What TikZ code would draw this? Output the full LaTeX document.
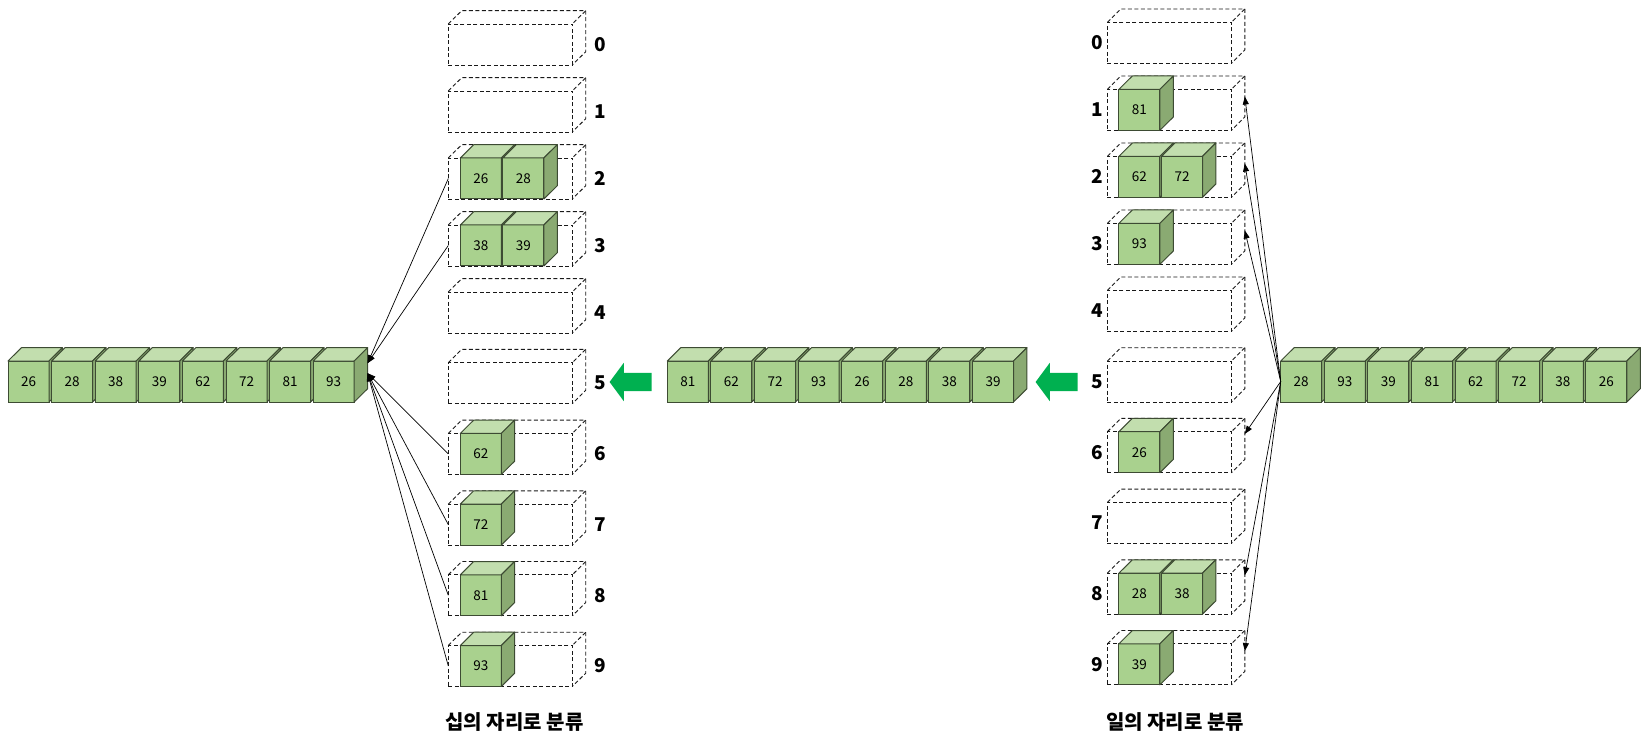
\documentclass[tikz,border=0pt]{standalone}
\usepackage{fontspec}
\setmainfont{Noto Sans CJK KR}
\usetikzlibrary{positioning,arrows.meta,shapes.arrows}
\definecolor{cubefront}{HTML}{A9D18E}
\definecolor{cubetop}{HTML}{C2DEAE}
\definecolor{cubeside}{HTML}{8AAA72}
\definecolor{cubeline}{HTML}{3D4B33}
\definecolor{movegreen}{HTML}{00B050}
\tikzset{
  cube/.style={draw=cubeline,fill=cubefront,line width=1pt,minimum size=41pt,inner sep=0pt,outer sep=0pt,font=\fontsize{13.5}{13.5}\selectfont},
  bucketedge/.style={draw=black!90,dash pattern=on 4pt off 2.5pt,line width=0.9pt},
  bucket/.style={bucketedge,minimum width=124pt,minimum height=41pt,inner sep=0pt,outer sep=0pt},
  digit/.style={font=\fontsize{19}{19}\selectfont\bfseries,inner sep=0pt},
  caption/.style={font=\fontsize{20}{20}\selectfont\bfseries,inner sep=0pt},
  conn/.style={line width=0.7pt,-{Triangle[length=8pt,width=6pt]}},
  move/.style={single arrow,fill=movegreen,shape border rotate=180,minimum height=42pt,inner xsep=0pt,inner ysep=9pt,single arrow head extend=10pt,single arrow tip angle=107}
}
\newcommand{\numcube}[3]{%
  \node[cube,#2](#1){#3};
  \filldraw[cubetop,draw=cubeline,line width=1pt,line join=round] (#1.north west) -- ++(13.4,-13.3) -- ++(41,0) -- (#1.north east) -- cycle;
  \filldraw[cubeside,draw=cubeline,line width=1pt,line join=round] (#1.north east) -- ++(13.4,-13.3) -- ++(0,41) -- (#1.south east) -- cycle;}
\newcommand{\bucketbox}[4]{%
  \node[bucket,#2](#1){};
  \draw[bucketedge] (#1.north west) -- ++(13.4,-13.3) -- ++(124,0) -- (#1.north east);
  \draw[bucketedge] ([shift={(13.4,-13.3)}]#1.north east) -- ++(0,41) -- (#1.south east);
  \coordinate (#1r) at ([shift={(13.4,-13.3)}]#1.east);
  \node[digit](#1n)[#3]{#4};}

\begin{document}
\begin{tikzpicture}[x=1pt,y=-1pt,node distance=43.6pt,on grid]
\useasboundingbox (0,0) rectangle (1646,743);
% tens buckets
\bucketbox{t0}{at={(510.3,44.5)}}{right=22pt of t0.east}{0}
\bucketbox{t1}{below=67pt of t0}{right=22pt of t1.east}{1}
\bucketbox{t2}{below=67pt of t1}{right=22pt of t2.east}{2}
\bucketbox{t3}{below=67pt of t2}{right=22pt of t3.east}{3}
\bucketbox{t4}{below=67pt of t3}{right=22pt of t4.east}{4}
\bucketbox{t5}{below=70.7pt of t4}{right=22pt of t5.east}{5}
\bucketbox{t6}{below=70.7pt of t5}{right=22pt of t6.east}{6}
\bucketbox{t7}{below=70.7pt of t6}{right=22pt of t7.east}{7}
\bucketbox{t8}{below=70.7pt of t7}{right=22pt of t8.east}{8}
\bucketbox{t9}{below=70.7pt of t8}{right=22pt of t9.east}{9}
\numcube{t2a}{at={([xshift=32.5pt]t2.west)}}{26}
\numcube{t2b}{right=42.6pt of t2a}{28}
\numcube{t3a}{at={([xshift=32.5pt]t3.west)}}{38}
\numcube{t3b}{right=42.6pt of t3a}{39}
\numcube{t6a}{at={([xshift=32.5pt]t6.west)}}{62}
\numcube{t7a}{at={([xshift=32.5pt]t7.west)}}{72}
\numcube{t8a}{at={([xshift=32.5pt]t8.west)}}{81}
\numcube{t9a}{at={([xshift=32.5pt]t9.west)}}{93}
% ones buckets
\bucketbox{o0}{at={(1169.4,42.8)}}{left=4pt of o0.west}{0}
\bucketbox{o1}{below=67pt of o0}{left=4pt of o1.west}{1}
\bucketbox{o2}{below=67pt of o1}{left=4pt of o2.west}{2}
\bucketbox{o3}{below=67pt of o2}{left=4pt of o3.west}{3}
\bucketbox{o4}{below=67pt of o3}{left=4pt of o4.west}{4}
\bucketbox{o5}{below=70.7pt of o4}{left=4pt of o5.west}{5}
\bucketbox{o6}{below=70.7pt of o5}{left=4pt of o6.west}{6}
\bucketbox{o7}{below=70.7pt of o6}{left=4pt of o7.west}{7}
\bucketbox{o8}{below=70.7pt of o7}{left=4pt of o8.west}{8}
\bucketbox{o9}{below=70.7pt of o8}{left=4pt of o9.west}{9}
\numcube{o1a}{at={([xshift=32pt]o1.west)}}{81}
\numcube{o2a}{at={([xshift=32pt]o2.west)}}{62}
\numcube{o2b}{right=42.6pt of o2a}{72}
\numcube{o3a}{at={([xshift=32pt]o3.west)}}{93}
\numcube{o6a}{at={([xshift=32pt]o6.west)}}{26}
\numcube{o8a}{at={([xshift=32pt]o8.west)}}{28}
\numcube{o8b}{right=42.6pt of o8a}{38}
\numcube{o9a}{at={([xshift=32pt]o9.west)}}{39}
% sorted row
\numcube{L1}{at={(28.5,381.5)}}{26}
\numcube{L2}{right=of L1}{28}
\numcube{L3}{right=of L2}{38}
\numcube{L4}{right=of L3}{39}
\numcube{L5}{right=of L4}{62}
\numcube{L6}{right=of L5}{72}
\numcube{L7}{right=of L6}{81}
\numcube{L8}{right=of L7}{93}
% after ones pass
\numcube{M1}{at={(687.8,381.5)}}{81}
\numcube{M2}{right=of M1}{62}
\numcube{M3}{right=of M2}{72}
\numcube{M4}{right=of M3}{93}
\numcube{M5}{right=of M4}{26}
\numcube{M6}{right=of M5}{28}
\numcube{M7}{right=of M6}{38}
\numcube{M8}{right=of M7}{39}
% input row
\numcube{R1}{at={(1301.2,381.5)}}{28}
\numcube{R2}{right=of R1}{93}
\numcube{R3}{right=of R2}{39}
\numcube{R4}{right=of R3}{81}
\numcube{R5}{right=of R4}{62}
\numcube{R6}{right=of R5}{72}
\numcube{R7}{right=of R6}{38}
\numcube{R8}{right=of R7}{26}
\node[move](g1) at (634,382) {};
\node[move](g2) at (1060,382) {};
\coordinate (L8s) at ([shift={(13.4,-13.3)}]L8.east);
\draw[conn] (t2.west) -- ([yshift=5pt]L8s);
\draw[conn] (t3.west) -- ([yshift=5pt]L8s);
\draw[conn] (t6.west) -- ([yshift=-5pt]L8s);
\draw[conn] (t7.west) -- ([yshift=-5pt]L8s);
\draw[conn] (t8.west) -- ([yshift=-5pt]L8s);
\draw[conn] (t9.west) -- ([yshift=-5pt]L8s);
\draw[conn] (R1.west) -- (o1r);
\draw[conn] (R1.west) -- (o2r);
\draw[conn] (R1.west) -- (o3r);
\draw[conn] (R1.west) -- ([yshift=5pt]o6r);
\draw[conn] (R1.west) -- ([yshift=5pt]o8r);
\draw[conn] (R1.west) -- (o9r);
\node[caption](tcap) at (514.5,721.7) {십의 자리로 분류};
\node[caption](ocap) at (1175,721.7) {일의 자리로 분류};
\end{tikzpicture}
\end{document}
